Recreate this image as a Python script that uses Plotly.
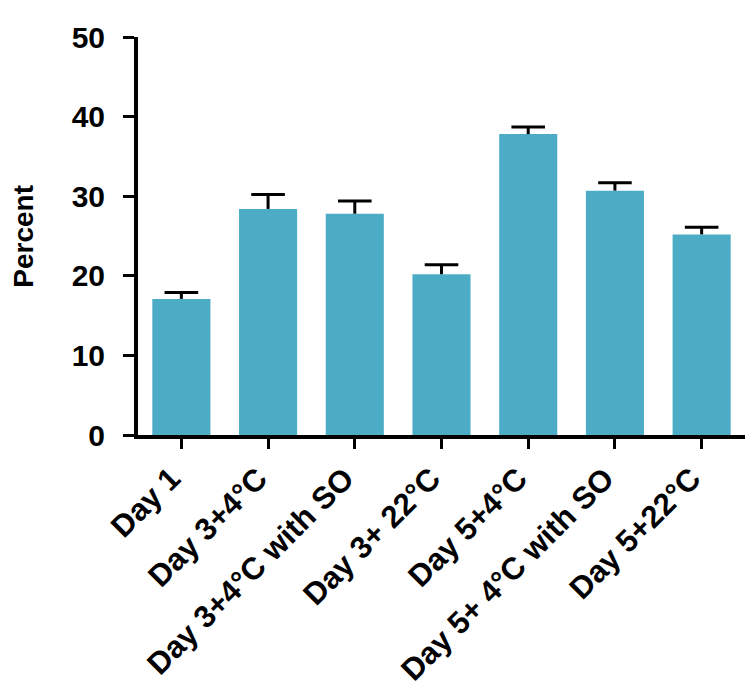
import plotly.graph_objs as go

categories = ['Day 1', 'Day 3+4°C', 'Day 3+4°C with SO', 'Day 3+ 22°C',
              'Day 5+4°C', 'Day 5+ 4°C with SO', 'Day 5+22°C']
means = [17.1, 28.4, 27.8, 20.2, 37.8, 30.7, 25.2]
errors = [0.8, 1.8, 1.6, 1.2, 0.9, 1.0, 0.9]
y_ticks = [0, 10, 20, 30, 40, 50]

barColor = '#4DACC5'
fontFamily = 'Liberation Sans, Arial, sans-serif'

fig = go.Figure()

# bars, error bar stem drawn upward only (no caps here)
fig.add_trace(go.Bar(
    x=categories, y=means,
    marker=dict(color=barColor, line=dict(width=0)),
    error_y=dict(type='data', symmetric=False, array=errors,
                 arrayminus=[0]*len(errors), width=0,
                 thickness=3, color='black'),
    showlegend=False))

# caps on top of the error bars
tops = [m + e for m, e in zip(means, errors)]
fig.add_trace(go.Scatter(
    x=categories, y=tops, mode='markers',
    marker=dict(symbol='line-ew', size=24, line=dict(width=3, color='black')),
    showlegend=False, hoverinfo='skip'))

# page body has an 8px margin, so margins are shifted to match
fig.update_layout(
    width=753, height=691,
    margin=dict(l=130, r=16, t=22, b=264),
    plot_bgcolor='white', paper_bgcolor='white',
    bargap=0.33,
    font=dict(family=fontFamily, color='black'),
    annotations=[dict(
        text='<b>Percent</b>', textangle=-90,
        x=-0.19, y=0.5, xref='paper', yref='paper',
        xanchor='center', yanchor='middle', showarrow=False,
        font=dict(size=28, family=fontFamily, color='black'))]
)

fig.update_xaxes(
    range=[-0.5, 6.5],
    showline=True, linewidth=4, linecolor='black',
    ticks='outside', ticklen=10, tickwidth=3, tickcolor='black',
    tickangle=-45, ticklabelstandoff=-1, ticklabelshift=-10,
    tickfont=dict(size=31, family=fontFamily, weight='bold'),
    showgrid=False, zeroline=False)

fig.update_yaxes(
    range=[0, 50], tickvals=y_ticks,
    showline=True, linewidth=4, linecolor='black',
    ticks='outside', ticklen=11, tickwidth=3, tickcolor='black',
    ticklabelstandoff=12,
    tickfont=dict(size=30, family=fontFamily, weight='bold'),
    showgrid=False, zeroline=False)

fig.write_html("out.html")
